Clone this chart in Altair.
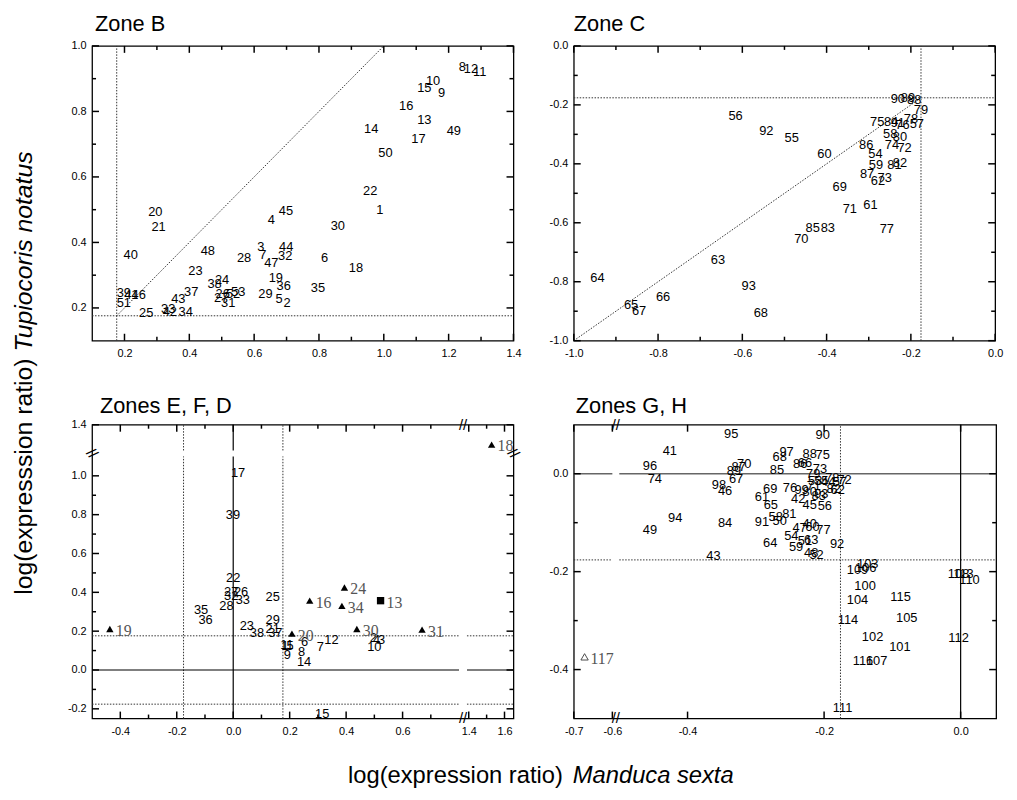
import altair as alt
import pandas as pd

FONT = "Liberation Sans"
SERIF = "Liberation Serif"
T = 0.176  # log10(1.5) threshold lines

# ---------------- Zone B ----------------
zb_label = ["8","12","11","10","15","9","16","13","14","49","17","50","22","1","20","21","4","45","30","40",
            "48","3","7","44","32","28","47","6","18","23","38","24","19","36","35","37","43","26","27","52",
            "53","29","5","2","31","39","41","46","51","25","33","42","34"]
zb_x = [1.242,1.269,1.296,1.152,1.125,1.178,1.069,1.125,0.961,1.216,1.107,1.005,0.958,0.988,0.295,0.305,0.653,0.698,0.858,0.219,
        0.457,0.621,0.627,0.699,0.696,0.569,0.653,0.817,0.914,0.419,0.478,0.501,0.667,0.691,0.797,0.406,0.366,0.503,0.498,0.535,
        0.551,0.635,0.677,0.702,0.520,0.198,0.221,0.244,0.198,0.267,0.335,0.340,0.389]
zb_y = [0.937,0.928,0.921,0.893,0.870,0.856,0.815,0.773,0.745,0.739,0.717,0.672,0.558,0.500,0.493,0.448,0.468,0.495,0.450,0.362,
        0.375,0.387,0.362,0.385,0.357,0.353,0.336,0.353,0.322,0.314,0.274,0.284,0.291,0.266,0.262,0.249,0.227,0.242,0.229,0.242,
        0.247,0.241,0.227,0.214,0.214,0.246,0.239,0.239,0.214,0.183,0.198,0.186,0.188]

# ---------------- Zone C ----------------
zc_label = ["90","89","88","79","78","75","84","91","76","57","58","80","86","74","72","54","59","81","82","87",
            "62","73","60","56","92","55","69","71","61","85","83","70","77","63","64","93","66","65","67","68"]
zc_x = [-0.231,-0.207,-0.192,-0.176,-0.200,-0.280,-0.247,-0.231,-0.220,-0.186,-0.249,-0.226,-0.306,-0.245,-0.215,-0.284,-0.283,-0.239,-0.226,-0.304,
        -0.278,-0.262,-0.405,-0.616,-0.543,-0.483,-0.369,-0.345,-0.296,-0.433,-0.397,-0.460,-0.257,-0.658,-0.944,-0.585,-0.788,-0.864,-0.845,-0.556]
zc_y = [-0.180,-0.177,-0.184,-0.216,-0.247,-0.258,-0.258,-0.263,-0.267,-0.265,-0.300,-0.309,-0.337,-0.337,-0.348,-0.368,-0.404,-0.404,-0.396,-0.435,
        -0.460,-0.449,-0.368,-0.239,-0.290,-0.311,-0.479,-0.555,-0.540,-0.618,-0.618,-0.655,-0.622,-0.728,-0.788,-0.815,-0.853,-0.879,-0.898,-0.907]

# ---------------- Zones E, F, D ----------------
ze_label = ["17","39","22","27","26","32","33","28","25","35","36","23","29","21","37","38","9","8","14","7",
            "12","6","1","5","11","2","4","3","10","15"]
ze_x = [0.017,-0.001,0.000,-0.007,0.028,-0.007,0.034,-0.024,0.140,-0.114,-0.098,0.048,0.140,0.140,0.149,0.084,0.192,0.242,0.251,0.309,
        0.348,0.253,0.184,0.201,0.190,0.496,0.508,0.526,0.500,0.315]
ze_y = [1.015,0.797,0.474,0.403,0.403,0.381,0.361,0.330,0.374,0.310,0.259,0.228,0.255,0.211,0.190,0.190,0.075,0.092,0.041,0.119,
        0.153,0.143,0.122,0.122,0.131,0.167,0.153,0.153,0.119,-0.226]
ze_sym_label = ["24","16","34","13","19","20","30","31","18"]
ze_sym_kind = ["tri","tri","tri","sq","tri","tri","tri","tri","tri"]
ze_sym_x = [0.394,0.271,0.385,0.522,-0.437,0.208,0.438,0.669,1.528]
ze_sym_y = [0.425,0.357,0.330,0.357,0.211,0.187,0.211,0.208,1.246]

# ---------------- Zones G, H ----------------
gh_label = ["95","41","96","74","98","46","94","49","84","43","89","87","70","67","90","68","97","88","75","85",
            "86","73","79","53","55","44","57","62","76","69","99","80","93","42","45","56","61","65","91","58",
            "81","50","40","47","60","77","54","63","51","64","59","48","52","92","66","78","72","82","71","83",
            "103","109","106","100","104","115","114","105","102","101","116","107","111","108","113","110","112"]
gh_x = [-0.336,-0.426,-0.455,-0.448,-0.354,-0.345,-0.418,-0.455,-0.345,-0.362,-0.332,-0.325,-0.317,-0.329,-0.202,-0.265,-0.255,-0.221,-0.202,-0.269,
        -0.235,-0.206,-0.216,-0.213,-0.204,-0.194,-0.177,-0.180,-0.250,-0.279,-0.233,-0.221,-0.204,-0.238,-0.221,-0.199,-0.291,-0.278,-0.291,-0.271,
        -0.251,-0.265,-0.221,-0.236,-0.217,-0.201,-0.248,-0.219,-0.228,-0.279,-0.241,-0.219,-0.211,-0.181,-0.228,-0.188,-0.170,-0.186,-0.215,-0.208,
        -0.136,-0.151,-0.139,-0.140,-0.151,-0.088,-0.165,-0.079,-0.129,-0.089,-0.143,-0.123,-0.173,-0.003,0.004,0.013,-0.003]
gh_y = [0.081,0.046,0.016,-0.011,-0.023,-0.035,-0.090,-0.115,-0.100,-0.168,0.005,0.014,0.019,-0.011,0.078,0.034,0.044,0.041,0.038,0.007,
        0.019,0.009,-0.001,-0.014,-0.015,-0.018,-0.018,-0.034,-0.030,-0.032,-0.034,-0.038,-0.042,-0.052,-0.063,-0.065,-0.048,-0.063,-0.099,-0.088,
        -0.083,-0.097,-0.102,-0.111,-0.109,-0.115,-0.127,-0.135,-0.137,-0.141,-0.149,-0.162,-0.166,-0.144,0.022,-0.008,-0.012,-0.032,-0.025,-0.045,
        -0.184,-0.197,-0.193,-0.230,-0.257,-0.251,-0.298,-0.294,-0.333,-0.353,-0.382,-0.383,-0.479,-0.205,-0.205,-0.218,-0.336]
gh_sym_label = ["117"]
gh_sym_x = [-0.672]
gh_sym_y = [-0.374]

# ---------------- tick values ----------------
B_XMAJ = [0.2, 0.4, 0.6, 0.8, 1.0, 1.2, 1.4]; B_XMIN = [0.3, 0.5, 0.7, 0.9, 1.1, 1.3]
B_YMAJ = [0.2, 0.4, 0.6, 0.8, 1.0];            B_YMIN = [0.3, 0.5, 0.7, 0.9]
C_MAJ = [-1.0, -0.8, -0.6, -0.4, -0.2, 0.0];   C_MIN = [-0.9, -0.7, -0.5, -0.3, -0.1]
E_XMAJ = [-0.4, -0.2, 0.0, 0.2, 0.4, 0.6, 1.4, 1.6]; E_XMIN = [-0.3, -0.1, 0.1, 0.3, 0.5, 0.7, 1.5]
E_YMAJ = [-0.2, 0.0, 0.2, 0.4, 0.6, 0.8, 1.0, 1.4];  E_YMIN = [-0.1, 0.1, 0.3, 0.5, 0.7, 0.9]
G_XMAJ = [-0.7, -0.6, -0.4, -0.2, 0.0];        G_XMIN = []
G_YMAJ = [-0.4, -0.2, 0.0];                    G_YMIN = [-0.3, -0.1]

MAJ_LEN = 7
MIN_LEN = 4

# scale definitions: (domain, pixel range) -- piecewise for the broken axes
B_X = ([0.1, 1.4], [0, 426]);  B_Y = ([0.1, 1.0], [298, 0])
C_X = ([-1.0, 0.0], [0, 426]); C_Y = ([-1.0, 0.0], [298, 0])
E_X = ([-0.5, 0.80, 1.39, 1.65], [0, 371, 379, 426])
E_Y = ([-0.25, 1.10, 1.20, 1.40], [297, 32, 26, 0])
G_X = ([-0.7, -0.6, -0.5, 0.052], [0, 39, 46, 427])
G_Y = ([-0.5, 0.1], [297, 0])


def scale(sd):
    return alt.Scale(domain=sd[0], range=sd[1], zero=False, nice=False)


def inv(sd, p):
    dom, rng = sd
    for i in range(len(dom) - 1):
        r0, r1 = rng[i], rng[i + 1]
        if min(r0, r1) <= p <= max(r0, r1) and r1 != r0:
            return dom[i] + (p - r0) * (dom[i + 1] - dom[i]) / (r1 - r0)
    return dom[0]


def axis(orient, values):
    return alt.Axis(orient=orient, values=values, domain=False, grid=False, ticks=False,
                    title=None, labelOverlap=False, labelFlush=False,
                    labelFont=FONT, labelFontSize=11, labelColor="black",
                    labelPadding=6 if orient == "left" else 7,
                    labelExpr="replace(format(datum.value, '.1f'), '\u2212', '-')")


def df_points(labels, xs, ys):
    return pd.DataFrame({"label": labels, "x": xs, "y": ys})


def label_layer(df, sx, sy, xmaj, ymaj):
    return alt.Chart(df).mark_text(font=FONT, fontSize=13, color="black").encode(
        x=alt.X("x:Q", scale=scale(sx), axis=axis("bottom", xmaj)),
        y=alt.Y("y:Q", scale=scale(sy), axis=axis("left", ymaj)),
        text="label:N")


def rule_layer(x1, x2, y1, y2, sx, sy, dash=None, color="black", width=1.0):
    df = pd.DataFrame({"x1": x1, "x2": x2, "y1": y1, "y2": y2})
    kw = dict(color=color, strokeWidth=width)
    if dash:
        kw["strokeDash"] = dash
    return alt.Chart(df).mark_rule(**kw).encode(
        x=alt.X("x1:Q", scale=scale(sx), axis=None), x2="x2:Q",
        y=alt.Y("y1:Q", scale=scale(sy), axis=None), y2="y2:Q")


def tick_layer(sx, sy, xmaj, xmin, ymaj, ymin):
    """Inward ticks on all four sides of the frame, drawn through the panel scales."""
    W = sx[1][-1]
    H = sy[1][0]
    x_lo, x_hi = sx[0][0], sx[0][-1]
    y_lo, y_hi = sy[0][0], sy[0][-1]
    x1, x2, y1, y2 = [], [], [], []
    for vals, L in ((xmaj, MAJ_LEN), (xmin, MIN_LEN)):
        for v in vals:
            x1 += [v, v]; x2 += [v, v]
            y1 += [y_lo, y_hi]; y2 += [inv(sy, H - L), inv(sy, L)]
    for vals, L in ((ymaj, MAJ_LEN), (ymin, MIN_LEN)):
        for v in vals:
            y1 += [v, v]; y2 += [v, v]
            x1 += [x_lo, x_hi]; x2 += [inv(sx, L), inv(sx, W - L)]
    return rule_layer(x1, x2, y1, y2, sx, sy, None, "black", 1.5)


def break_layer(bx, by, ang, sx, sy):
    df = pd.DataFrame({"x": bx, "y": by, "a": ang, "t": ["//"] * len(bx)})
    return alt.Chart(df).mark_text(font=FONT, fontSize=15, color="black").encode(
        x=alt.X("x:Q", scale=scale(sx), axis=None), y=alt.Y("y:Q", scale=scale(sy), axis=None),
        angle=alt.Angle("a:Q", scale=None), text="t:N")


def fixed_text(txt, x, y, size, style="normal", align="left", angle=0):
    return alt.Chart(pd.DataFrame({"t": [txt]})).mark_text(
        font=FONT, fontSize=size, fontStyle=style, align=align, baseline="alphabetic",
        angle=angle, color="black").encode(x=alt.value(x), y=alt.value(y), text="t:N")


DOT = [1.5, 1.5]
DOTC = "#333333"

# ---------- Zone B panel ----------
dfb = df_points(zb_label, zb_x, zb_y)
zb = alt.layer(
    rule_layer([T, 0.1, T], [T, 1.4, 1.0], [0.1, T, T], [1.0, T, 1.0], B_X, B_Y, DOT, DOTC, 1),
    tick_layer(B_X, B_Y, B_XMAJ, B_XMIN, B_YMAJ, B_YMIN),
    label_layer(dfb, B_X, B_Y, B_XMAJ, B_YMAJ),
    fixed_text("Zone B", 3, -15, 22),
    fixed_text("log(expresssion ratio)", -61, 316, 25, "normal", "right", 270),
    fixed_text("Tupiocoris notatus", -61, 309, 25, "italic", "left", 270),
).properties(width=426, height=298).resolve_scale(x="independent", y="independent")

# ---------- Zone C panel ----------
dfc = df_points(zc_label, zc_x, zc_y)
zc = alt.layer(
    rule_layer([-T, -1.0, -1.0], [-T, 0.0, -T], [-1.0, -T, -1.0], [0.0, -T, -T], C_X, C_Y, DOT, DOTC, 1),
    tick_layer(C_X, C_Y, C_MAJ, C_MIN, C_MAJ, C_MIN),
    label_layer(dfc, C_X, C_Y, C_MAJ, C_MAJ),
    fixed_text("Zone C", 0, -15, 22),
).properties(width=426, height=298).resolve_scale(x="independent", y="independent")

# ---------- Zones E, F, D panel ----------
dfe = df_points(ze_label, ze_x, ze_y)
dfe_sym = pd.DataFrame({"label": ze_sym_label, "kind": ze_sym_kind, "x": ze_sym_x, "y": ze_sym_y})
ze_sym = alt.Chart(dfe_sym).mark_point(filled=True, opacity=1, color="black", size=55).encode(
    x=alt.X("x:Q", scale=scale(E_X), axis=None), y=alt.Y("y:Q", scale=scale(E_Y), axis=None),
    shape=alt.Shape("kind:N", scale=alt.Scale(domain=["tri", "sq"], range=["triangle-up", "square"]), legend=None))
ze_sym_txt = alt.Chart(dfe_sym).mark_text(font=SERIF, fontSize=16, color="#555555", align="left", dx=6, dy=2).encode(
    x=alt.X("x:Q", scale=scale(E_X), axis=None), y=alt.Y("y:Q", scale=scale(E_Y), axis=None), text="label:N")
ze = alt.layer(
    rule_layer([-T, -T, T, T, -0.5, 1.39, -0.5, 1.39],
               [-T, -T, T, T, 0.80, 1.65, 0.80, 1.65],
               [-0.25, 1.20, -0.25, 1.20, T, T, -T, -T],
               [1.10, 1.40, 1.10, 1.40, T, T, -T, -T], E_X, E_Y, DOT, DOTC, 1),
    rule_layer([0, 0, -0.5, 1.39], [0, 0, 0.80, 1.65], [-0.25, 1.20, 0, 0], [1.10, 1.40, 0, 0],
               E_X, E_Y, None, "black", 1.2),
    break_layer([1.1, 1.1, -0.5, 1.65], [-0.25, 1.40, 1.15, 1.15], [0, 0, 50, 50], E_X, E_Y),
    tick_layer(E_X, E_Y, E_XMAJ, E_XMIN, E_YMAJ, E_YMIN),
    label_layer(dfe, E_X, E_Y, E_XMAJ, E_YMAJ),
    ze_sym, ze_sym_txt,
    fixed_text("Zones E, F, D", 8, -12, 22),
    fixed_text("log(expression ratio)", 476, 362, 24, "normal", "right"),
    fixed_text("Manduca sexta", 486, 362, 24, "italic", "left"),
).properties(width=426, height=297).resolve_scale(x="independent", y="independent")

# ---------- Zones G, H panel ----------
dfg = df_points(gh_label, gh_x, gh_y)
dfg_sym = df_points(gh_sym_label, gh_sym_x, gh_sym_y)
gh_sym = alt.Chart(dfg_sym).mark_point(filled=False, shape="triangle-up", color="black", size=55, strokeWidth=1).encode(
    x=alt.X("x:Q", scale=scale(G_X), axis=None), y=alt.Y("y:Q", scale=scale(G_Y), axis=None))
gh_sym_txt = alt.Chart(dfg_sym).mark_text(font=SERIF, fontSize=16, color="#555555", align="left", dx=6, dy=2).encode(
    x=alt.X("x:Q", scale=scale(G_X), axis=None), y=alt.Y("y:Q", scale=scale(G_Y), axis=None), text="label:N")
zg = alt.layer(
    rule_layer([-T, -0.7, -0.5], [-T, -0.6, 0.052], [-0.5, -T, -T], [0.1, -T, -T], G_X, G_Y, DOT, DOTC, 1),
    rule_layer([-0.7, -0.5], [-0.6, 0.052], [0, 0], [0, 0], G_X, G_Y, None, "#666666", 1.6),
    rule_layer([0], [0], [-0.5], [0.1], G_X, G_Y, None, "black", 1.2),
    break_layer([-0.55, -0.55], [-0.5, 0.1], [0, 0], G_X, G_Y),
    tick_layer(G_X, G_Y, G_XMAJ, G_XMIN, G_YMAJ, G_YMIN),
    label_layer(dfg, G_X, G_Y, G_XMAJ, G_YMAJ),
    gh_sym, gh_sym_txt,
    fixed_text("Zones G, H", 2, -12, 22),
).properties(width=427, height=297).resolve_scale(x="independent", y="independent")

chart = alt.concat(zb, zc, ze, zg, columns=2, spacing={"row": 85, "column": 61}, bounds="flush").properties(
    padding={"left": 3, "top": 0, "right": 5, "bottom": 5}
).configure_view(stroke="black", strokeWidth=1.3)

chart.save("out.html", embed_options={"renderer": "svg", "actions": False})
